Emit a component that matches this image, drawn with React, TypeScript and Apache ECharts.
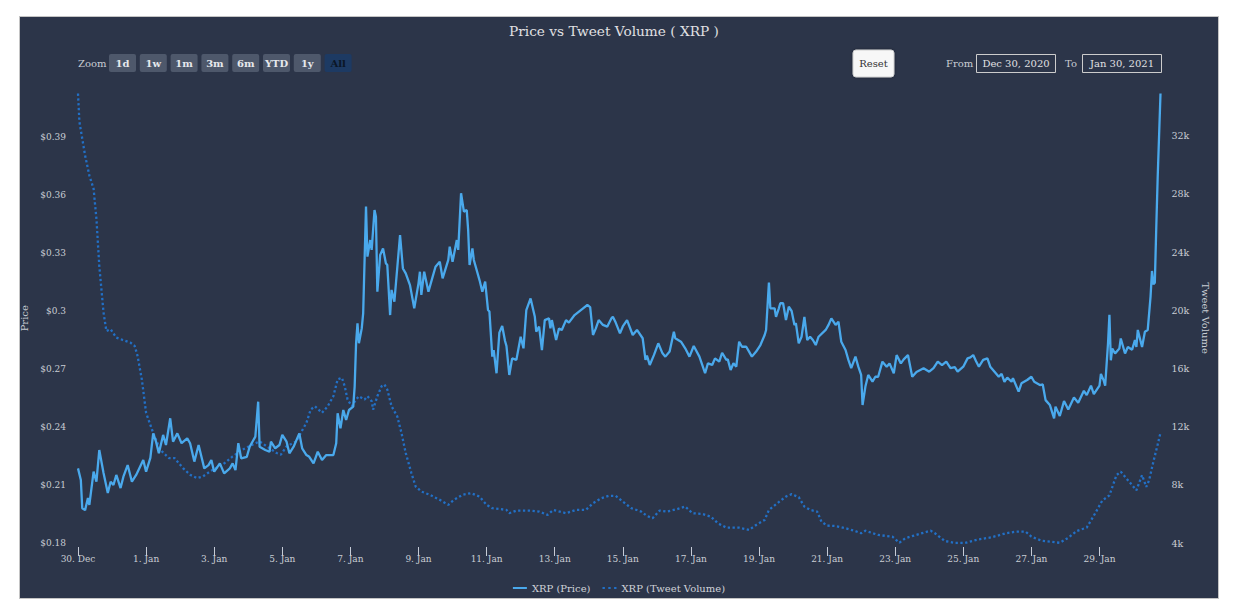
import React, { useEffect, useRef } from "react";
import * as echarts from "echarts";

// hours since 30 Dec 2020 00:00
const PRICE_HOURS = [
  0, 2, 3, 5, 7, 8, 11, 13, 15, 18, 21, 23, 25, 27, 30, 32, 35, 38, 41, 46, 48, 51, 53, 55, 57, 60, 62, 65, 67, 70,
  73, 77, 79, 82, 85, 89, 92, 94, 96, 100, 103, 107, 109, 111, 113, 115, 119, 121, 125, 127, 128, 132, 135, 136, 139,
  142, 144, 147, 149, 152, 156, 158, 161, 163, 166, 169, 172, 175, 180, 182, 183, 185, 187, 189, 191, 194, 195, 196,
  197, 198, 200, 201, 203, 204, 206, 207, 209, 210, 211, 213, 215, 217, 218, 220, 221, 223, 227, 229, 231, 234, 237,
  240, 241, 242, 244, 247, 250, 252, 255, 257, 261, 262, 264, 267, 268, 270, 272, 274, 275, 276, 278, 279, 283, 285,
  287, 289, 290, 292, 293, 295, 297, 299, 301, 302, 304, 306, 309, 312, 314, 316, 319, 322, 323, 325, 327, 329, 332,
  333, 334, 337, 339, 341, 344, 346, 350, 356, 359, 361, 363, 365, 367, 370, 373, 376, 377, 379, 382, 384, 387, 391,
  394, 398, 400, 401, 403, 406, 409, 412, 414, 417, 420, 421, 425, 428, 431, 434, 438, 440, 442, 444, 447, 449, 452,
  454, 457, 458, 460, 462, 464, 466, 468, 471, 473, 475, 478, 481, 484, 485, 487, 488, 491, 492, 494, 495, 497, 499,
  501, 503, 505, 506, 508, 510, 512, 514, 516, 518, 520, 522, 527, 529, 531, 534, 536, 538, 541, 543, 545, 548, 550,
  552, 553, 555, 557, 560, 562, 564, 567, 570, 572, 575, 577, 580, 582, 585, 588, 591, 596, 600, 603, 606, 609, 612,
  615, 618, 620, 624, 627, 629, 631, 633, 635, 638, 641, 643, 646, 649, 651, 653, 655, 658, 659, 663, 665, 669, 672,
  674, 678, 680, 682, 685, 688, 689, 692, 695, 698, 702, 705, 709, 711, 714, 716, 720, 721, 723, 724, 726, 727, 728,
  729, 731, 734, 735, 738, 740, 743, 745, 746, 747, 750, 752, 754, 756, 757, 758, 759, 760, 761, 763,
];
const PRICE_VALUES = [
  0.2186, 0.2126, 0.198, 0.197, 0.2033, 0.1997, 0.2169, 0.2117, 0.2281, 0.2162, 0.2059, 0.2117, 0.21, 0.2152, 0.2084,
  0.2143, 0.2203, 0.2117, 0.2152, 0.2229, 0.2169, 0.224, 0.2367, 0.2324, 0.2264, 0.2359, 0.2307, 0.2445, 0.2324,
  0.2367, 0.2316, 0.2341, 0.2316, 0.2221, 0.2307, 0.2186, 0.2203, 0.2229, 0.2169, 0.2212, 0.216, 0.2186, 0.2212,
  0.2177, 0.2316, 0.2238, 0.2246, 0.2298, 0.235, 0.2531, 0.2298, 0.2281, 0.2272, 0.2324, 0.229, 0.2307, 0.2359,
  0.2324, 0.2264, 0.2298, 0.2367, 0.229, 0.2255, 0.2246, 0.2212, 0.2272, 0.2229, 0.2255, 0.2255, 0.2316, 0.2471,
  0.2393, 0.2488, 0.2436, 0.2488, 0.2505, 0.2609, 0.2833, 0.2936, 0.2833, 0.291, 0.2988, 0.354, 0.3281, 0.3367,
  0.3316, 0.3522, 0.3488, 0.31, 0.329, 0.3324, 0.3247, 0.3238, 0.2979, 0.3109, 0.3048, 0.3393, 0.322, 0.3195, 0.3134,
  0.3014, 0.3143, 0.3203, 0.3083, 0.3203, 0.31, 0.3178, 0.3229, 0.3255, 0.3169, 0.3264, 0.3333, 0.3255, 0.3367,
  0.3316, 0.3609, 0.3514, 0.3522, 0.3419, 0.3238, 0.3324, 0.3264, 0.316, 0.31, 0.3152, 0.3005, 0.2997, 0.2764, 0.2798,
  0.2678, 0.2888, 0.2922, 0.2845, 0.2819, 0.2669, 0.2755, 0.2747, 0.2867, 0.2807, 0.3005, 0.3065, 0.297, 0.2893,
  0.2919, 0.2798, 0.2953, 0.2962, 0.291, 0.2953, 0.285, 0.291, 0.2902, 0.2953, 0.294, 0.2979, 0.3014, 0.3031, 0.302,
  0.2876, 0.291, 0.2953, 0.2928, 0.2919, 0.2962, 0.297, 0.294, 0.2884, 0.292, 0.2953, 0.2876, 0.2902, 0.2859, 0.2747,
  0.277, 0.2721, 0.2773, 0.2833, 0.2781, 0.2764, 0.279, 0.2893, 0.2859, 0.2841, 0.2807, 0.2764, 0.2819, 0.2764,
  0.2721, 0.2678, 0.2729, 0.2721, 0.2755, 0.2738, 0.2784, 0.2747, 0.275, 0.2695, 0.273, 0.2712, 0.2841, 0.2815,
  0.2815, 0.279, 0.2764, 0.279, 0.2824, 0.2876, 0.2902, 0.3147, 0.3014, 0.3014, 0.297, 0.3014, 0.304, 0.304, 0.2953,
  0.3022, 0.3, 0.2928, 0.2937, 0.2833, 0.2867, 0.297, 0.285, 0.2867, 0.285, 0.2824, 0.2867, 0.2902, 0.2928, 0.2962,
  0.2928, 0.2945, 0.2841, 0.2798, 0.2747, 0.2704, 0.2764, 0.2712, 0.2669, 0.2514, 0.2609, 0.2669, 0.2635, 0.266,
  0.266, 0.2738, 0.2712, 0.2729, 0.2678, 0.2772, 0.2729, 0.275, 0.2772, 0.266, 0.2685, 0.2704, 0.2686, 0.2704,
  0.2738, 0.272, 0.2738, 0.2704, 0.271, 0.2686, 0.2712, 0.2755, 0.276, 0.2772, 0.274, 0.2712, 0.2747, 0.2755, 0.2712,
  0.2686, 0.266, 0.2675, 0.2634, 0.2655, 0.2634, 0.2652, 0.2583, 0.2626, 0.2643, 0.266, 0.2634, 0.2617, 0.262,
  0.2539, 0.2514, 0.2445, 0.2505, 0.2457, 0.2534, 0.2491, 0.2552, 0.2526, 0.2587, 0.2565, 0.2614, 0.257, 0.2614,
  0.2675, 0.264, 0.2614, 0.2832, 0.298, 0.2745, 0.2806, 0.278, 0.2806, 0.2858, 0.278, 0.2814, 0.28, 0.285, 0.2814,
  0.2902, 0.2814, 0.2893, 0.2902, 0.3076, 0.3207, 0.3138, 0.3146, 0.3427, 0.3688, 0.4125,
];

const VOLUME_HOURS = [
  0, 1, 5, 8, 11, 13, 15, 18, 20, 23, 27, 37, 40, 42, 45, 48, 53, 58, 64, 68, 74, 79, 84, 88, 95, 102, 109, 116, 123,
  128, 133, 140, 143, 147, 154, 157, 161, 164, 167, 172, 176, 180, 183, 186, 188, 190, 193, 196, 198, 202, 204, 207,
  208, 211, 214, 216, 218, 221, 225, 228, 231, 235, 238, 242, 248, 255, 261, 265, 271, 277, 283, 288, 292, 302, 304,
  309, 318, 325, 331, 335, 344, 351, 358, 363, 369, 374, 379, 384, 390, 397, 401, 405, 410, 415, 422, 428, 433, 440,
  446, 451, 457, 466, 473, 478, 484, 487, 493, 499, 503, 508, 512, 516, 521, 524, 528, 534, 541, 547, 552, 555, 557,
  564, 574, 579, 583, 593, 601, 604, 611, 618, 625, 635, 644, 654, 661, 668, 672, 679, 692, 698, 704, 711, 716, 722,
  727, 732, 735, 741, 746, 750, 753, 755, 758, 761, 763,
];
const VOLUME_VALUES = [
  34897, 32946, 30644, 29264, 28345, 26276, 23057, 19841, 18575, 18690, 18115, 17770, 17540, 16850, 15243, 12945,
  11566, 10416, 9841, 9841, 9152, 8690, 8460, 8575, 9035, 9380, 9955, 10416, 10760, 10990, 10645, 10187, 10070, 10645,
  10990, 11566, 12256, 13173, 13400, 12945, 13400, 14090, 15243, 15358, 14780, 13862, 13400, 13862, 14090, 13862,
  14090, 13747, 13173, 14090, 14780, 14897, 14552, 13400, 12710, 11566, 10187, 8807, 7883, 7538, 7310, 6966, 6621,
  6966, 7310, 7428, 7193, 6621, 6393, 6276, 6048, 6230, 6230, 6160, 5931, 6276, 6048, 6276, 6276, 6738, 7083, 7242,
  7242, 6848, 6393, 6160, 5862, 5703, 6230, 6160, 6324, 6504, 6048, 6000, 5814, 5359, 5055, 5055, 4897, 5241, 5586,
  6276, 6738, 7193, 7359, 7152, 6504, 6276, 6160, 5469, 5193, 5172, 5014, 4848, 4669, 4848, 4779, 4552, 4434, 4020,
  4324, 4621, 4848, 4669, 4138, 4000, 4000, 4255, 4393, 4669, 4779, 4779, 4434, 4159, 4014, 4359, 4828, 5062, 5876,
  6924, 7276, 8669, 8904, 8207, 7621, 8669, 7855, 8324, 9600, 10766, 11586,
];

const X_TICK_HOURS = [0, 48, 96, 144, 192, 240, 288, 336, 384, 432, 480, 528, 576, 624, 672, 720];
const X_TICK_LABELS = [
  "30. Dec", "1. Jan", "3. Jan", "5. Jan", "7. Jan", "9. Jan", "11. Jan", "13. Jan",
  "15. Jan", "17. Jan", "19. Jan", "21. Jan", "23. Jan", "25. Jan", "27. Jan", "29. Jan",
];
const RANGE_BUTTONS = ["1d", "1w", "1m", "3m", "6m", "YTD", "1y", "All"];
const SELECTED_BUTTON = "All";
const DATE_FROM = "Dec 30, 2020";
const DATE_TO = "Jan 30, 2021";
const TITLE = "Price vs Tweet Volume ( XRP )";
const SERIES_NAMES = ["XRP (Price)", "XRP (Tweet Volume)"];

const BG = "#2c3549";
const FONT = '"DejaVu Serif", serif';
const LABEL = "#c9cdd4";
const PRICE_COLOR = "#4aa9ec";
const VOL_COLOR = "#2270c6";

export default function App() {
  const ref = useRef<HTMLDivElement>(null);

  useEffect(() => {
    document.body.style.margin = "0";
    const chart = echarts.init(ref.current!, null, { renderer: "svg" });

    const priceData = PRICE_HOURS.map((h, i) => [h, PRICE_VALUES[i]]);
    const volData = VOLUME_HOURS.map((h, i) => [h, VOLUME_VALUES[i]]);

    const buttons: any[] = [];
    RANGE_BUTTONS.forEach((b, i) => {
      const x = 89 + i * 30.8;
      const sel = b === SELECTED_BUTTON;
      buttons.push({
        type: "rect",
        shape: { x, y: 37, width: 27, height: 18, r: 2 },
        style: { fill: sel ? "#1d3a63" : "#4e586b" },
      });
      buttons.push({
        type: "text",
        x: x + 13.5,
        y: 46,
        style: {
          text: b,
          fill: sel ? "#0b1626" : "#e6e8ec",
          fontSize: 10,
          fontWeight: "bold",
          fontFamily: FONT,
          align: "center",
          verticalAlign: "middle",
        },
      });
    });

    const graphic: any[] = [
      {
        type: "text",
        x: 594,
        y: 14,
        style: { text: TITLE, fill: "#e0e0e3", fontSize: 13.7, fontFamily: FONT, align: "center", verticalAlign: "middle" },
      },
      {
        type: "text",
        x: 58,
        y: 46,
        style: { text: "Zoom", fill: LABEL, fontSize: 10, fontFamily: FONT, align: "left", verticalAlign: "middle" },
      },
      ...buttons,
      {
        type: "rect",
        shape: { x: 833, y: 33, width: 41, height: 27, r: 3 },
        style: { fill: "#f7f7f7", stroke: "#d0d0d0", lineWidth: 1, shadowBlur: 3, shadowColor: "rgba(0,0,0,0.35)" },
      },
      {
        type: "text",
        x: 853.5,
        y: 46.5,
        style: { text: "Reset", fill: "#333333", fontSize: 10, fontFamily: FONT, align: "center", verticalAlign: "middle" },
      },
      {
        type: "text",
        x: 926,
        y: 46,
        style: { text: "From", fill: LABEL, fontSize: 10, fontFamily: FONT, align: "left", verticalAlign: "middle" },
      },
      {
        type: "rect",
        shape: { x: 956.5, y: 37.5, width: 79, height: 18 },
        style: { fill: "none", stroke: "#cccccc", lineWidth: 1 },
      },
      {
        type: "text",
        x: 996,
        y: 46.5,
        style: { text: DATE_FROM, fill: "#e0e0e3", fontSize: 10, fontFamily: FONT, align: "center", verticalAlign: "middle" },
      },
      {
        type: "text",
        x: 1045,
        y: 46,
        style: { text: "To", fill: LABEL, fontSize: 10, fontFamily: FONT, align: "left", verticalAlign: "middle" },
      },
      {
        type: "rect",
        shape: { x: 1062.5, y: 37.5, width: 79, height: 18 },
        style: { fill: "none", stroke: "#cccccc", lineWidth: 1 },
      },
      {
        type: "text",
        x: 1102,
        y: 46.5,
        style: { text: DATE_TO, fill: "#e0e0e3", fontSize: 10, fontFamily: FONT, align: "center", verticalAlign: "middle" },
      },
    ];

    chart.setOption({
      animation: false,
      backgroundColor: BG,
      textStyle: { fontFamily: FONT },
      grid: { left: 58, right: 57.5, top: 76.5, bottom: 55, containLabel: false, outerBoundsMode: "none" },
      graphic,
      legend: {
        left: "center",
        top: 561,
        itemWidth: 14,
        itemHeight: 2,
        itemGap: 12,
        textStyle: { color: "#d0d3d9", fontSize: 10, fontFamily: FONT },
        data: [
          { name: SERIES_NAMES[0], icon: "path://M0,0H14V2H0Z", itemStyle: { color: PRICE_COLOR } },
          {
            name: SERIES_NAMES[1],
            icon: "path://M0,0H2.4V2H0ZM5.8,0H8.2V2H5.8ZM11.6,0H14V2H11.6Z",
            itemStyle: { color: VOL_COLOR },
          },
        ],
      },
      xAxis: {
        type: "value",
        min: 0,
        max: PRICE_HOURS[PRICE_HOURS.length - 1],
        offset: 4,
        axisLine: { show: false },
        splitLine: { show: false },
        axisTick: {
          show: true,
          length: 9,
          lineStyle: { color: "#c6cbd6", width: 1 },
          customValues: X_TICK_HOURS,
        },
        axisLabel: {
          color: LABEL,
          fontSize: 9,
          fontFamily: FONT,
          margin: 7,
          customValues: X_TICK_HOURS,
          formatter: (v: number) => X_TICK_LABELS[X_TICK_HOURS.indexOf(Math.round(v))] ?? "",
        },
      },
      yAxis: [
        {
          type: "value",
          min: 0.18,
          max: 0.4125,
          interval: 0.03,
          name: "Price",
          nameLocation: "middle",
          nameGap: 39,
          nameTextStyle: { color: LABEL, fontSize: 10, fontFamily: FONT },
          axisLine: { show: false },
          axisTick: { show: false },
          splitLine: { show: false },
          axisLabel: {
            color: LABEL,
            fontSize: 9,
            fontFamily: FONT,
            margin: 12,
            showMaxLabel: false,
            formatter: (v: number) => `$${parseFloat(v.toFixed(2))}`,
          },
        },
        {
          type: "value",
          min: 4000,
          max: 34900,
          interval: 4000,
          position: "right",
          name: "Tweet Volume",
          nameLocation: "middle",
          nameGap: 29,
          nameRotate: -90,
          nameTextStyle: { color: LABEL, fontSize: 10, fontFamily: FONT },
          axisLine: { show: false },
          axisTick: { show: false },
          splitLine: { show: false },
          axisLabel: {
            color: LABEL,
            fontSize: 9.5,
            fontFamily: FONT,
            margin: 11,
            showMaxLabel: false,
            formatter: (v: number) => `${v / 1000}k`,
          },
        },
      ],
      series: [
        {
          name: SERIES_NAMES[1],
          type: "line",
          yAxisIndex: 1,
          data: volData,
          symbol: "none",
          silent: true,
          lineStyle: { color: VOL_COLOR, width: 2.3, type: [2.3, 2.5] },
          itemStyle: { color: VOL_COLOR },
        },
        {
          name: SERIES_NAMES[0],
          type: "line",
          yAxisIndex: 0,
          data: priceData,
          symbol: "none",
          silent: true,
          lineStyle: { color: PRICE_COLOR, width: 2.3 },
          itemStyle: { color: PRICE_COLOR },
        },
      ],
    });

    return () => chart.dispose();
  }, []);

  return (
    <div style={{ position: "relative", width: 1236, height: 610, background: "#ffffff" }}>
      <div
        style={{
          position: "absolute",
          left: 19,
          top: 16,
          width: 1200,
          height: 583,
          boxSizing: "border-box",
          border: "1px solid #c4c4c4",
          background: BG,
        }}
      >
        <div ref={ref} style={{ width: 1198, height: 581 }} />
      </div>
    </div>
  );
}
